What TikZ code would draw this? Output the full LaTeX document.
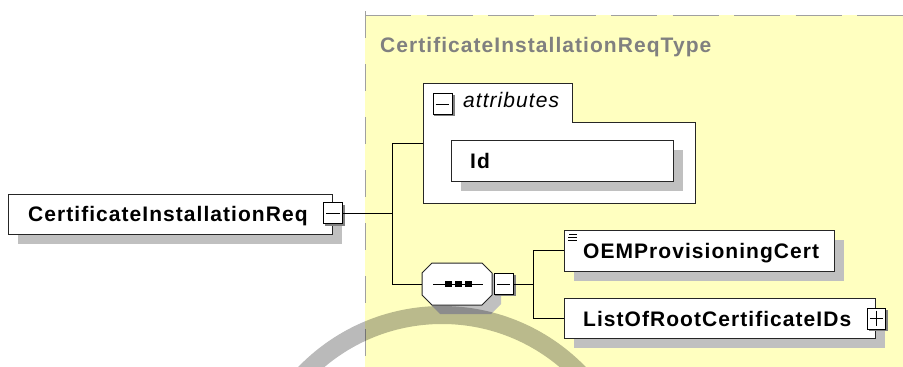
\documentclass[tikz,border=0pt]{standalone}
\usepackage{fontspec}
\setmainfont{Liberation Sans}
\newfontfamily\dfont{Liberation Sans}[LetterSpace=5]
\usetikzlibrary{calc}
\definecolor{bgyel}{HTML}{FFFFC0}
\definecolor{shgray}{HTML}{C0C0C0}
\definecolor{titlegray}{HTML}{808080}
\definecolor{dashgray}{HTML}{A0A0A0}
\definecolor{pmgray}{HTML}{808080}
\begin{document}
\begin{tikzpicture}[x=1pt,y=-1pt]
\tikzset{
 box/.style={draw=black!85, fill=white, line width=1pt, inner sep=0pt},
 lbl/.style={anchor=base west, inner sep=0pt, font=\dfont\fontsize{21}{25}\selectfont\bfseries},
 ilbl/.style={anchor=base west, inner sep=0pt, font=\dfont\fontsize{21}{25}\selectfont\itshape},
 pmbox/.style={draw=black, fill=white, line width=0.8pt, inner sep=0pt, minimum width=19pt, minimum height=21pt},
 conn/.style={draw=black, line width=1pt},
}
\useasboundingbox (0,0) rectangle (903,367);
% type background
\fill[bgyel] (365,15) rectangle (903,367);
\draw[dashgray, line width=1.5pt, dash pattern=on 46pt off 15.5pt] (365,15.5) -- (903,15.5);
\draw[dashgray, line width=1.5pt, dash pattern=on 27pt off 26pt] (365.5,11) -- (365.5,367);
\node[anchor=base west, inner sep=0pt, text=titlegray, font=\dfont\fontsize{21}{25}\selectfont\bfseries] (title) at (380,52.5) {CertificateInstallationReqType};

% connectors
\coordinate (j1) at (392,213);
\coordinate (jtop) at (392,143);
\coordinate (jbot) at (392,284);
\coordinate (attrin) at (423,143);
\coordinate (j2) at (533,284);
\coordinate (j2top) at (533,250.5);
\coordinate (j2bot) at (533,318);

% root element
\fill[shgray] (18,204) rectangle (342,244);
\node[box, minimum width=324pt, minimum height=40pt] (root) at (170,214) {};
\node[lbl] (rootlbl) at (28,221) {CertificateInstallationReq};
\fill[pmgray] (324.5,204.5) rectangle (345,226);
\node[pmbox] (m1) at (333,213) {};
\draw[line width=0.8pt] ($(m1.west)+(3,0)$) -- ($(m1.east)+(-3,0)$);

\draw[conn] (m1.east) -- (j1);
\draw[conn] (jtop) -- (jbot);
\draw[conn] (jtop) -- (attrin);

% attributes
\draw[box] (423,83) -- (572,83) -- (572,122) -- (695,122) -- (695,203) -- (423,203) -- cycle;
\node[inner sep=0pt, minimum width=272pt, minimum height=120pt] (attr) at (559,143) {};
\fill[pmgray] (434,95) rectangle (454.5,116);
\node[pmbox] (m3) at (442.5,104) {};
\draw[line width=0.8pt] ($(m3.west)+(3,0)$) -- ($(m3.east)+(-3,0)$);
\node[ilbl] (attrlbl) at (463,107) {attributes};
\fill[shgray] (461,150) rectangle (683,191);
\node[box, minimum width=222pt, minimum height=41pt] (id) at (562,160.5) {};
\node[lbl] (idlbl) at (470,168) {Id};

% sequence
\fill[shgray] (440,272) -- (491,272) -- (501,282) -- (501,304) -- (491,314) -- (440,314) -- (430,304) -- (430,282) -- cycle;
\node[inner sep=0pt, minimum width=70pt, minimum height=42pt] (seq) at (457,284) {};
\draw[box] (432,263) -- (482,263) -- (492,273) -- (492,295) -- (482,305) -- (432,305) -- (422,295) -- (422,273) -- cycle;
\draw[line width=1pt] (433,284) -- (483,284);
\fill (445,281) rectangle (452,287);
\fill (455,281) rectangle (462,287);
\fill (465,281) rectangle (472,287);
\fill[pmgray] (495,275) rectangle (516,296);
\node[pmbox] (m2) at (503.5,284) {};
\draw[line width=0.8pt] ($(m2.west)+(3,0)$) -- ($(m2.east)+(-3,0)$);
\draw[conn] (jbot) -- (seq.west);
\draw[conn] (m2.east) -- (j2);
\draw[conn] (j2top) -- (j2bot);

% OEMProvisioningCert
\fill[shgray] (574,240) rectangle (844,281);
\node[box, minimum width=270pt, minimum height=41pt] (oem) at (699,250.5) {};
\node[lbl] (oemlbl) at (583,258) {OEMProvisioningCert};
\draw[line width=0.8pt] (569,234) -- (577,234) (568,237) -- (577,237) (568,240) -- (577,240);
\draw[conn] (j2top) -- (oem.west);

% ListOfRootCertificateIDs
\fill[shgray] (574,308) rectangle (885,348);
\node[box, minimum width=311pt, minimum height=40pt] (list) at (719.5,318) {};
\node[lbl] (listlbl) at (583,326) {ListOfRootCertificateIDs};
\fill[pmgray] (869,310) rectangle (888,331);
\node[pmbox, minimum width=18pt] (p1) at (876.5,318.5) {};
\draw[line width=0.8pt] ($(p1.west)+(3,0)$) -- ($(p1.east)+(-3,0)$) ($(p1.north)+(0,3)$) -- ($(p1.south)+(0,-3)$);
\draw[conn] (j2bot) -- (list.west);

% watermark ring
\begin{scope}
\clip (0,0) rectangle (903,367);
\fill[black, opacity=0.27, even odd rule] (442,506) circle[radius=200] (442,506) circle[radius=182];
\end{scope}
\end{tikzpicture}
\end{document}
